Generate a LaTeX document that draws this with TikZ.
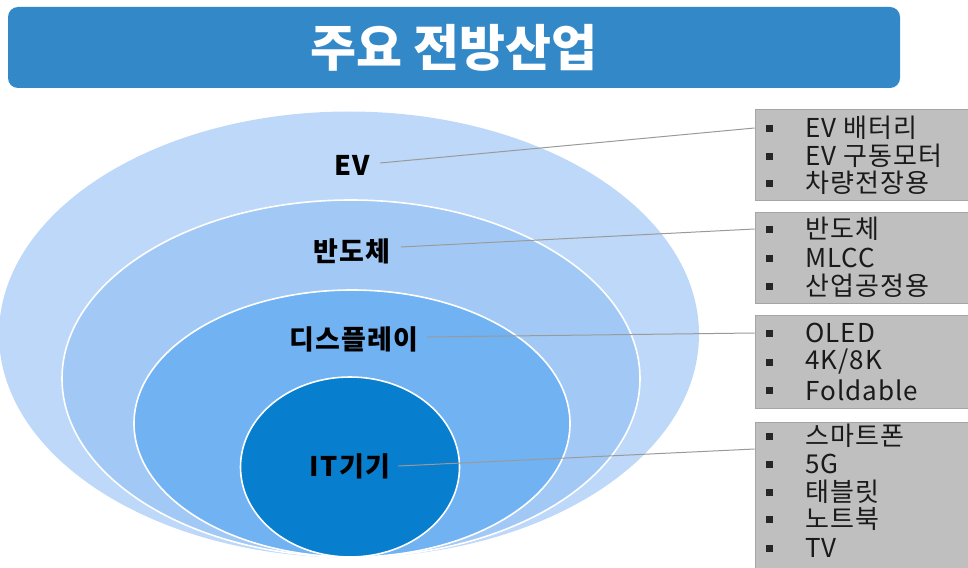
\documentclass[tikz,border=0pt]{standalone}
\usepackage{fontspec}
\setmainfont{Noto Sans CJK KR}
\usetikzlibrary{shapes.geometric}
\definecolor{barblue}{HTML}{3388C8}
\definecolor{ring1}{HTML}{BDD8F8}
\definecolor{ring2}{HTML}{A2C9F5}
\definecolor{ring3}{HTML}{70B2F2}
\definecolor{ring4}{HTML}{087ECF}
\definecolor{boxgray}{HTML}{BFBFBF}
\definecolor{boxedge}{HTML}{A5A5A5}
\definecolor{linegray}{HTML}{9A9A9A}
\definecolor{itemtext}{HTML}{1A1A1A}
\tikzset{
  ring/.style={ellipse, inner sep=0pt, outer sep=0pt},
  ringlabel/.style={font=\fontsize{27}{30}\selectfont\bfseries\addfontfeatures{LetterSpace=5}, text=black, inner sep=0pt},
  titlebar/.style={fill=barblue, rounded corners=10pt, minimum width=892pt, minimum height=81pt, inner sep=0pt,
    text=white, font=\fontsize{50}{56}\selectfont\bfseries},
  listbox/.style={fill=boxgray, draw=boxedge, line width=0.8pt, minimum width=222pt, inner sep=0pt},
  bulletsq/.style={fill=black!85, minimum size=7pt, inner sep=0pt},
  item/.style={anchor=west, inner sep=0pt, text=itemtext, font=\fontsize{26}{28}\selectfont\addfontfeatures{LetterSpace=4}},
  leader/.style={draw=linegray, line width=1pt}
}
\begin{document}
\begin{tikzpicture}[x=1pt,y=-1pt]
\useasboundingbox (0,0) rectangle (968,567);
% title
\node[titlebar] (title) at (454,47.5) {주요 전방산업};
% rings
\node[ring, fill=ring1, minimum width=700pt, minimum height=446pt] (r1) at (349,334.5) {};
\node[ring, fill=ring2, draw=white, line width=1.6pt, minimum width=578pt, minimum height=357pt] (r2) at (351,378.5) {};
\node[ring, fill=ring3, draw=white, line width=1.6pt, minimum width=436pt, minimum height=267pt] (r3) at (352,423.5) {};
\node[ring, fill=ring4, draw=white, line width=1.6pt, minimum width=219pt, minimum height=180pt] (r4) at (350,467) {};
% ring labels
\node[ringlabel] (lev) at (352,165) {EV};
\node[ringlabel] (lsemi) at (352,251) {반도체};
\node[ringlabel] (ldisp) at (354,339) {디스플레이};
\node[ringlabel] (lit) at (350,466) {IT기기};
% boxes
\node[listbox, minimum height=91pt] (box1) at (866,154.5) {};
\node[listbox, minimum height=91pt] (box2) at (866,257.5) {};
\node[listbox, minimum height=93pt] (box3) at (866,361.5) {};
\node[listbox, minimum height=160pt] (box4) at (866,502) {};
% box 1 items
\node[bulletsq] (b11) at (769,128) {}; \node[item] (i11) at (805,128) {EV 배터리};
\node[bulletsq] (b12) at (769,156) {}; \node[item] (i12) at (805,156) {EV 구동모터};
\node[bulletsq] (b13) at (769,183) {}; \node[item] (i13) at (805,183) {차량전장용};
% box 2 items
\node[bulletsq] (b21) at (769,229) {}; \node[item] (i21) at (805,229) {반도체};
\node[bulletsq] (b22) at (769,258) {}; \node[item] (i22) at (805,258) {MLCC};
\node[bulletsq] (b23) at (769,286) {}; \node[item] (i23) at (805,286) {산업공정용};
% box 3 items
\node[bulletsq] (b31) at (769,333) {}; \node[item] (i31) at (805,333) {OLED};
\node[bulletsq] (b32) at (769,362) {}; \node[item] (i32) at (805,362) {4K/8K};
\node[bulletsq] (b33) at (769,390) {}; \node[item] (i33) at (805,390) {Foldable};
% box 4 items
\node[bulletsq] (b41) at (769,436) {}; \node[item] (i41) at (805,436) {스마트폰};
\node[bulletsq] (b42) at (769,464) {}; \node[item] (i42) at (805,464) {5G};
\node[bulletsq] (b43) at (769,492) {}; \node[item] (i43) at (805,492) {태블릿};
\node[bulletsq] (b44) at (769,519) {}; \node[item] (i44) at (805,519) {노트북};
\node[bulletsq] (b45) at (769,548) {}; \node[item] (i45) at (805,548) {TV};
% leaders
\draw[leader] ([xshift=10pt,yshift=2pt]lev.east) -- (box1.west |- b11);
\draw[leader] ([xshift=10pt,yshift=4pt]lsemi.east) -- (box2.west |- b21);
\draw[leader] ([xshift=8pt,yshift=2pt]ldisp.east) -- (box3.west |- b31);
\draw[leader] ([xshift=8pt]lit.east) -- ([yshift=-13pt]box4.west |- b41);
\end{tikzpicture}
\end{document}
